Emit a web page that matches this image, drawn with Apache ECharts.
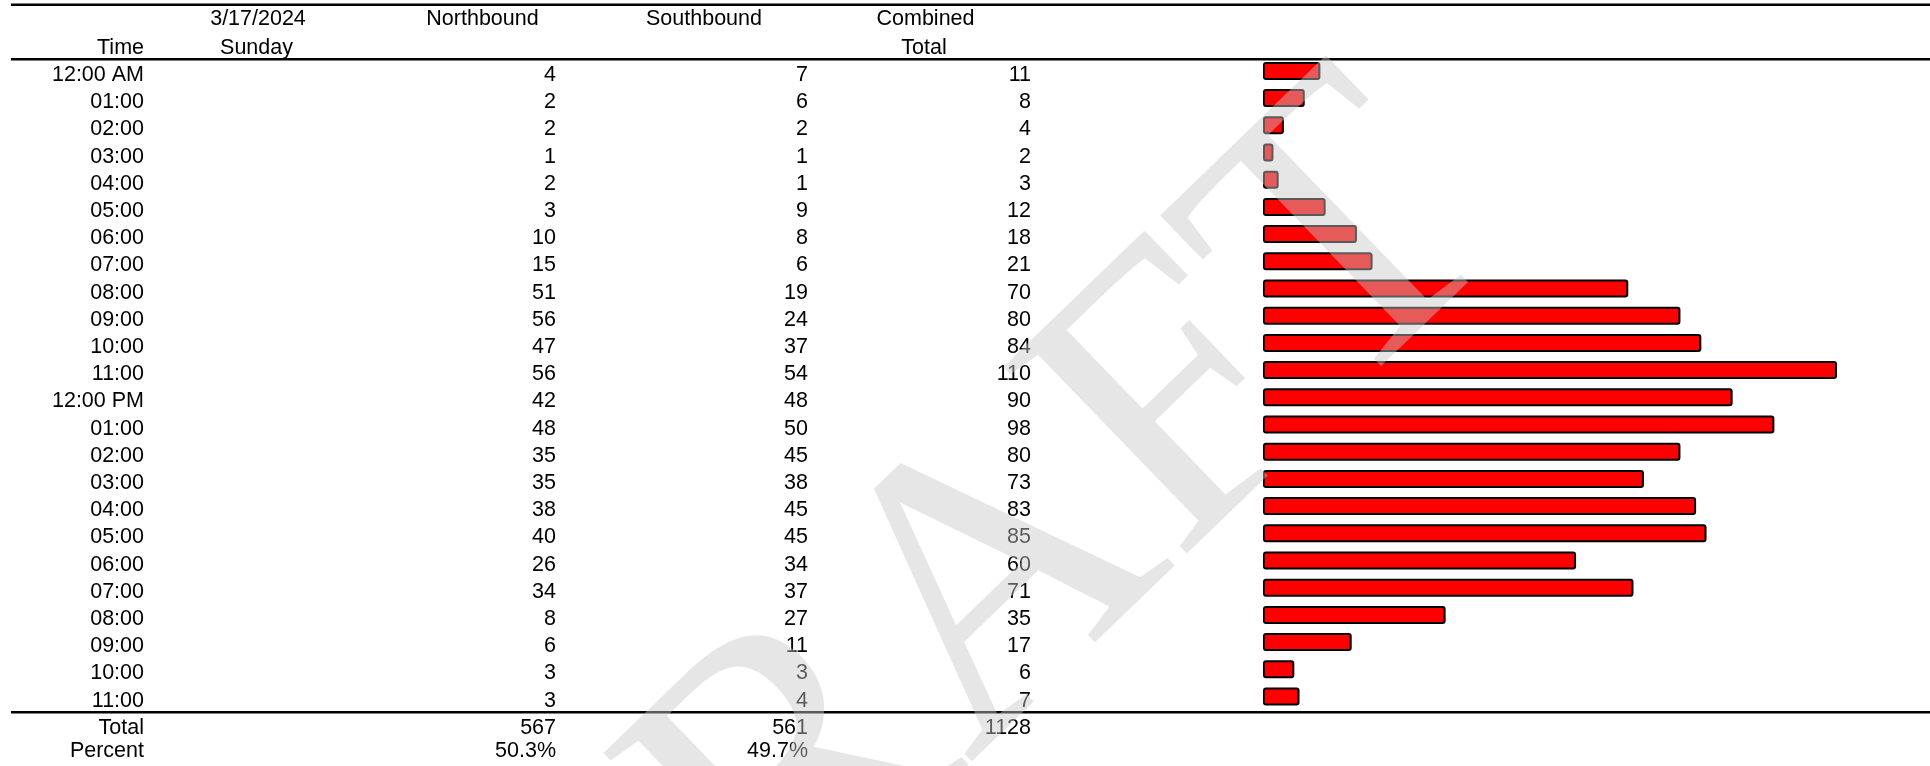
<!DOCTYPE html>
<html>
<head>
<meta charset="utf-8">
<script src="https://cdn.jsdelivr.net/npm/echarts@6/dist/echarts.min.js"></script>
<style>
    html, body { margin: 0; padding: 0; background: #fff; }
    #main { width: 1930px; height: 766px; }
</style>
</head>
<body>
<div id="main"></div>
<script>
    var times = ['12:00 AM', '01:00', '02:00', '03:00', '04:00', '05:00', '06:00', '07:00', '08:00', '09:00', '10:00', '11:00',
        '12:00 PM', '01:00', '02:00', '03:00', '04:00', '05:00', '06:00', '07:00', '08:00', '09:00', '10:00', '11:00'];
    var northbound = [4, 2, 2, 1, 2, 3, 10, 15, 51, 56, 47, 56, 42, 48, 35, 35, 38, 40, 26, 34, 8, 6, 3, 3];
    var southbound = [7, 6, 2, 1, 1, 9, 8, 6, 19, 24, 37, 54, 48, 50, 45, 38, 45, 45, 34, 37, 27, 11, 3, 4];
    var combined = [11, 8, 4, 2, 3, 12, 18, 21, 70, 80, 84, 110, 90, 98, 80, 73, 83, 85, 60, 71, 35, 17, 6, 7];
    var dateLabel = '3/17/2024';
    var dayLabel = 'Sunday';

    function sum(arr) {
        return arr.reduce(function (a, b) { return a + b; }, 0);
    }
    var totalN = sum(northbound), totalS = sum(southbound), totalC = sum(combined);
    var pctN = (totalN / totalC * 100).toFixed(1) + '%';
    var pctS = (totalS / totalC * 100).toFixed(1) + '%';

    var font = 'Liberation Sans, Arial, sans-serif';
    var fs = 21.5;

    // one label column of the table, right aligned at (1263 - offset)
    function column(labels, offset) {
        return {
            type: 'category',
            gridIndex: 1,
            inverse: true,
            position: 'left',
            offset: offset,
            data: labels,
            axisLine: {show: false},
            axisTick: {show: false},
            splitLine: {show: false},
            axisLabel: {interval: 0, margin: 0, color: '#000', fontSize: fs, fontFamily: font}
        };
    }

    function txt(x, y, s, align) {
        return {
            type: 'text', x: x, y: y, z: 10,
            style: {text: s, fill: '#000', font: fs + 'px ' + font, align: align, verticalAlign: 'middle'}
        };
    }

    function rule(y, w) {
        return {
            type: 'line', z: 10,
            shape: {x1: 11, y1: y, x2: 1930, y2: y},
            style: {stroke: '#000', lineWidth: w}
        };
    }

    var chart = echarts.init(document.getElementById('main'));
    chart.setOption({
        animation: false,
        grid: [
            {left: 1263, width: 574, top: 57.3, height: 652.8},
            {left: 1263, width: 574, top: 61.4, height: 680}
        ],
        xAxis: [
            {type: 'value', gridIndex: 0, min: 0, max: 110, show: false},
            {type: 'value', gridIndex: 1, min: 0, max: 110, show: false}
        ],
        yAxis: [
            {type: 'category', gridIndex: 0, inverse: true, data: times, show: false},
            column(times.concat(['Total']), 1119),
            column(northbound.concat([totalN]), 707),
            column(southbound.concat([totalS]), 455),
            column(combined.concat([totalC]), 232)
        ],
        series: [{
            type: 'bar',
            xAxisIndex: 0,
            yAxisIndex: 0,
            data: combined,
            barWidth: 18,
            itemStyle: {color: '#ff0000', borderColor: '#000', borderWidth: 2, borderRadius: 2}
        }],
        graphic: [
            {
                type: 'text', x: 1028, y: -8.5, z: 5,
                style: {text: 'E N G I N E E R I N G', fill: '#000', font: 'bold 29px ' + font, align: 'center', verticalAlign: 'middle'}
            },
            rule(4.7, 2.5),
            rule(59.3, 2.5),
            rule(712.3, 2.5),
            txt(258, 19.5, dateLabel, 'center'),
            txt(482.5, 19.5, 'Northbound', 'center'),
            txt(704, 19.5, 'Southbound', 'center'),
            txt(925.5, 19.5, 'Combined', 'center'),
            txt(144, 48.5, 'Time', 'right'),
            txt(256.5, 48.5, dayLabel, 'center'),
            txt(924, 48.5, 'Total', 'center'),
            txt(144, 751, 'Percent', 'right'),
            txt(556, 751, pctN, 'right'),
            txt(808, 751, pctS, 'right'),
            {
                type: 'text', x: 968, y: 619, z: 100,
                rotation: 44 * Math.PI / 180,
                style: {
                    text: 'DRAFT', fill: 'rgba(200,200,200,0.45)',
                    font: '400px Liberation Serif, Times New Roman, serif',
                    align: 'center', verticalAlign: 'middle'
                }
            }
        ]
    });
</script>
</body>
</html>
